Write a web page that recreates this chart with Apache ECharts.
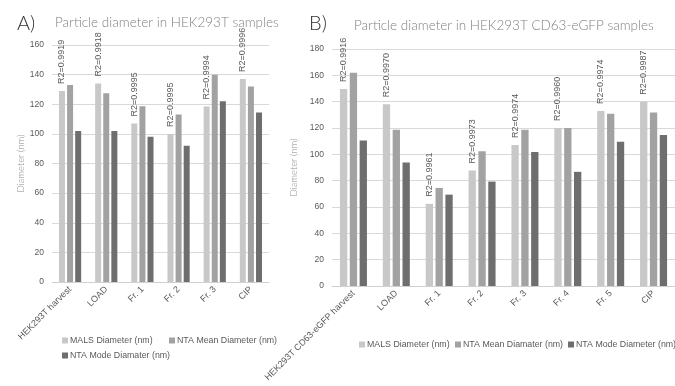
<!DOCTYPE html>
<html>
<head>
<meta charset="utf-8">
<script src="https://cdn.jsdelivr.net/npm/echarts@6/dist/echarts.min.js"></script>
<style>
  html, body { margin: 0; padding: 0; background: #fff; }
  #chart { width: 675px; height: 386px; }
</style>
</head>
<body>
<div id="chart"></div>
<script>
// Panel A: HEK293T samples
const categoriesA = ['HEK293T harvest', 'LOAD', 'Fr. 1', 'Fr. 2', 'Fr. 3', 'CIP'];
const malsA = [129, 134, 107, 100, 118.5, 137];
const ntaMeanA = [133, 127.5, 118.7, 113, 140, 132];
const ntaModeA = [102, 102, 98, 92, 122, 114.5];
const r2A = ['R2=0.9919', 'R2=0.9918', 'R2=0.9995', 'R2=0.9995', 'R2=0.9994', 'R2=0.9996'];
const namesA = ['MALS Diameter (nm)', 'NTA Mean Diameter (nm)', 'NTA Mode Diamater (nm)'];

// Panel B: HEK293T CD63-eGFP samples
const categoriesB = ['HEK293T CD63-eGFP harvest', 'LOAD', 'Fr. 1', 'Fr. 2', 'Fr. 3', 'Fr. 4', 'Fr. 5', 'CIP'];
const malsB = [149.6, 138, 62.4, 87.7, 107, 120, 133, 140];
const ntaMeanB = [162, 118.6, 74.5, 102.4, 118.6, 120, 130.8, 131.8];
const ntaModeB = [110.5, 93.8, 69.4, 79.3, 101.7, 86.7, 109.5, 114.6];
const r2B = ['R2=0.9916', 'R2=0.9970', 'R2=0.9961', 'R2=0.9973', 'R2=0.9974', 'R2=0.9960', 'R2=0.9974', 'R2=0.9987'];
const namesB = ['MALS Diameter (nm)', 'NTA Mean Diamater (nm)', 'NTA Mode Diameter (nm)'];

const ticksA = { max: 160, interval: 20 };
const ticksB = { max: 180, interval: 20 };

const colors = ['#c8c8c8', '#a2a2a2', '#6e6e6e'];
const tickFont = 'Liberation Sans, Arial, sans-serif';
const thinFont = 'Lato, Open Sans, sans-serif';
const legendText = { fontFamily: tickFont, fontSize: 8.8, color: '#595959', padding: [0, 0, 0, -3] };

function yAxis(gridIndex, t, nameGap) {
  return {
    gridIndex, type: 'value', min: 0, max: t.max, interval: t.interval,
    name: 'Diameter (nm)', nameLocation: 'middle', nameGap,
    nameTextStyle: { fontFamily: thinFont, fontWeight: 300, fontSize: 9.5, color: '#8c8c8c' },
    axisLine: { show: false }, axisTick: { show: false },
    axisLabel: { fontFamily: tickFont, fontSize: 8.5, color: '#595959', margin: 8 },
    splitLine: { lineStyle: { color: '#d9d9d9', width: 1 } }
  };
}
function xAxis(gridIndex, cats) {
  return {
    gridIndex, type: 'category', data: cats,
    axisLine: { lineStyle: { color: '#d0d0d0' } }, axisTick: { show: false },
    axisLabel: { rotate: 45, fontFamily: tickFont, fontSize: 9, color: '#595959', margin: 6, interval: 0 }
  };
}
function bars(idx, names, sets, r2, barWidth) {
  return sets.map((data, i) => ({
    type: 'bar', name: names[i], xAxisIndex: idx, yAxisIndex: idx, data,
    barWidth, barGap: '35%',
    itemStyle: { color: colors[i] },
    label: i === 0 ? {
      show: true, position: 'top', rotate: 90, distance: 7,
      align: 'left', verticalAlign: 'middle',
      formatter: p => r2[p.dataIndex],
      fontFamily: tickFont, fontSize: 9, color: '#595959'
    } : { show: false }
  }));
}
function legendItem(name, left, top) {
  return { data: [name], left, top, itemWidth: 6, itemHeight: 6, icon: 'rect', textStyle: legendText };
}

const chart = echarts.init(document.getElementById('chart'), null, { renderer: 'canvas' });
chart.setOption({
  animation: false,
  backgroundColor: '#ffffff',
  title: [
    { text: 'A)', left: 12, top: 9, textStyle: { fontFamily: thinFont, fontWeight: 300, fontSize: 20, color: '#333' } },
    { text: 'Particle diameter in HEK293T samples', left: 50, top: 11, textStyle: { fontFamily: thinFont, fontWeight: 300, fontSize: 13.5, color: '#808080' } },
    { text: 'B)', left: 304, top: 9, textStyle: { fontFamily: thinFont, fontWeight: 300, fontSize: 20, color: '#333' } },
    { text: 'Particle diameter in HEK293T CD63-eGFP samples', left: 349, top: 14, textStyle: { fontFamily: thinFont, fontWeight: 300, fontSize: 13.5, color: '#808080' } }
  ],
  legend: [
    legendItem(namesA[0], 57, 331),
    legendItem(namesA[1], 164, 331),
    legendItem(namesA[2], 57, 346),
    legendItem(namesB[0], 354, 335),
    legendItem(namesB[1], 450, 335),
    legendItem(namesB[2], 563, 335)
  ],
  grid: [
    { left: 52, right: 406, top: 45, bottom: 104 },
    { left: 332, right: -6, top: 49, bottom: 100 }
  ],
  xAxis: [xAxis(0, categoriesA), xAxis(1, categoriesB)],
  yAxis: [yAxis(0, ticksA, 26), yAxis(1, ticksB, 31)],
  series: [
    ...bars(0, namesA, [malsA, ntaMeanA, ntaModeA], r2A, 6),
    ...bars(1, namesB, [malsB, ntaMeanB, ntaModeB], r2B, 7.3)
  ]
});
</script>
</body>
</html>
